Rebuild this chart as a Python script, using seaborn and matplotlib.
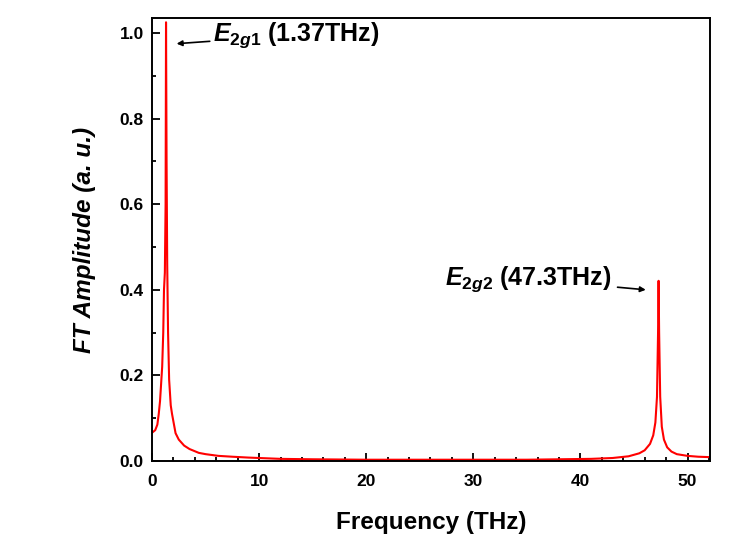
import numpy as np
import pandas as pd
import matplotlib
matplotlib.use("Agg")
import matplotlib.pyplot as plt
from matplotlib.ticker import MultipleLocator
import seaborn as sns

# Data
freq_thz = [0.0, 0.3, 0.5, 0.63, 0.75, 0.85, 0.95, 1.05, 1.12, 1.2, 1.27, 1.31,
            1.36, 1.42, 1.5, 1.6, 1.75, 1.87, 2.2, 2.5, 3.0, 3.5, 4.37, 5.0, 6.2,
            7.5, 9.0, 12.0, 15.0, 20.0, 25.0, 30.0, 35.0, 38.0, 41.0, 43.0, 44.5,
            45.5, 46.0, 46.5, 46.8, 47.0, 47.15, 47.25, 47.3, 47.35, 47.45, 47.6,
            47.8, 48.1, 48.5, 49.0, 50.0, 51.0, 52.1]
ft_amp = [0.066, 0.072, 0.085, 0.11, 0.14, 0.18, 0.22, 0.30, 0.40, 0.44, 0.60, 1.025,
          0.70, 0.46, 0.30, 0.19, 0.13, 0.11, 0.065, 0.05, 0.036, 0.028, 0.019, 0.016,
          0.012, 0.01, 0.008, 0.005, 0.004, 0.003, 0.003, 0.003, 0.003, 0.004, 0.005,
          0.007, 0.011, 0.018, 0.025, 0.04, 0.06, 0.09, 0.15, 0.3, 0.421, 0.3, 0.15,
          0.08, 0.05, 0.032, 0.022, 0.016, 0.012, 0.01, 0.009]

peak_labels = ["(1.37THz)", "(47.3THz)"]
peak_modes = ["2g1", "2g2"]

df = pd.DataFrame({"Frequency": freq_thz, "Amplitude": ft_amp})

sns.set_style("ticks")
plt.rcParams["font.family"] = ["Liberation Sans", "DejaVu Sans"]
plt.rcParams["text.color"] = "black"
plt.rcParams["axes.labelcolor"] = "black"
plt.rcParams["mathtext.fontset"] = "custom"
plt.rcParams["mathtext.rm"] = "Liberation Sans:bold"
plt.rcParams["mathtext.bfit"] = "Liberation Sans:bold:italic"
plt.rcParams["mathtext.it"] = "Liberation Sans:bold:italic"

fig = plt.figure(figsize=(7.35, 5.51), dpi=100)
ax = fig.add_axes([152/735, 90/551, (710-152)/735, (461-18)/551])

sns.lineplot(data=df, x="Frequency", y="Amplitude", ax=ax, color="#ff0000",
             linewidth=1.5, sort=False)

ax.set_xlim(0, 52.1)
ax.set_ylim(0, 1.035)
ax.xaxis.set_major_locator(MultipleLocator(10))
ax.xaxis.set_minor_locator(MultipleLocator(2))
ax.yaxis.set_minor_locator(MultipleLocator(0.1))
ax.set_yticks([0.0, 0.2, 0.4, 0.6, 0.8, 1.0])
ax.set_yticklabels(["0.0", "0.2", "0.4", "0.6", "0.8", "1.0"])
ax.tick_params(which="both", direction="in", top=False, right=False, width=1.3,
               labelsize=12.5, colors="black")
ax.tick_params(which="major", length=6)
ax.tick_params(which="minor", length=3)
ax.tick_params(axis="x", which="major", pad=9)
ax.tick_params(axis="y", which="major", pad=6)
for lab in ax.get_xticklabels() + ax.get_yticklabels():
    lab.set_fontweight("bold")
for s in ax.spines.values():
    s.set_linewidth(1.4)
    s.set_color("black")
    s.set_visible(True)

ax.set_xlabel("Frequency (THz)", fontsize=17.5, fontweight="bold", labelpad=16)
ax.set_ylabel("FT Amplitude (a. u.)", fontsize=17.5, fontweight="bold",
              fontstyle="italic", labelpad=17)

ax.annotate(r"$\mathit{E}_{\mathit{" + peak_modes[0] + "}}$ " + peak_labels[0],
            xy=(2.3, 0.975), xytext=(5.7, 0.995), fontsize=18, fontweight="bold",
            ha="left", va="center", color="black",
            arrowprops=dict(arrowstyle="-|>", color="black", lw=1.2,
                            mutation_scale=8, shrinkA=0, shrinkB=0))
ax.annotate(r"$\mathit{E}_{\mathit{" + peak_modes[1] + "}}$ " + peak_labels[1],
            xy=(46.1, 0.40), xytext=(42.9, 0.425), fontsize=18, fontweight="bold",
            ha="right", va="center", color="black",
            arrowprops=dict(arrowstyle="-|>", color="black", lw=1.2,
                            mutation_scale=8, shrinkA=2, shrinkB=0))

fig.savefig("out.png", dpi=100)
